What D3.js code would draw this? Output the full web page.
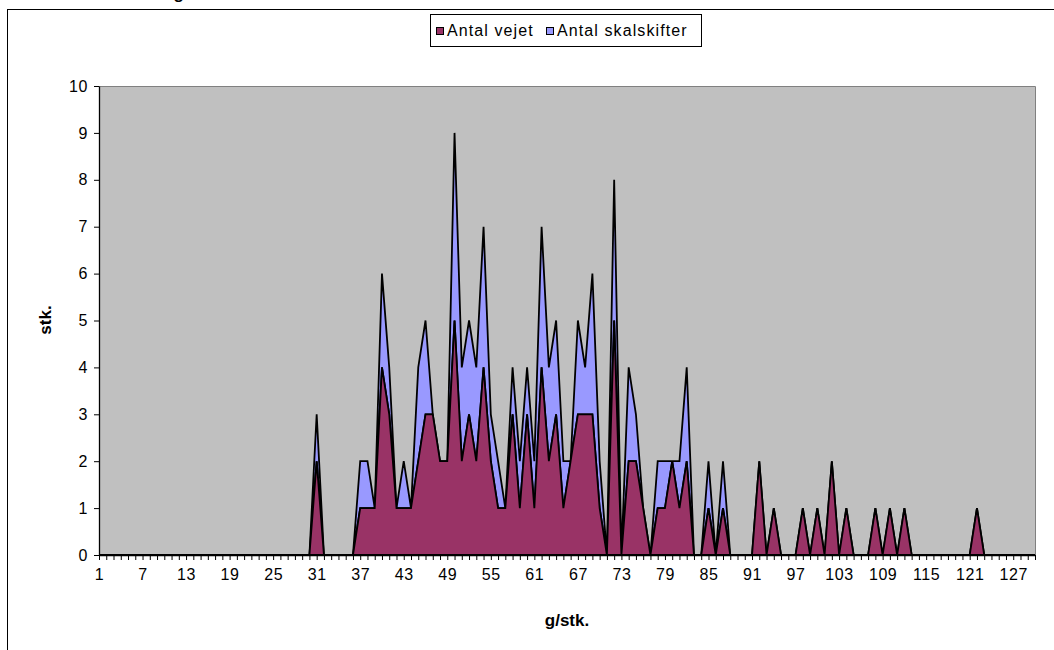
<!DOCTYPE html>
<html lang="da">
<head>
<meta charset="utf-8">
<title>Antal vejet / skalskifter</title>
<script src="https://cdn.jsdelivr.net/npm/d3@7"></script>
<style>
  body { margin: 0; background: #fff; }
  text { font-family: "Liberation Sans", Arial, sans-serif; }
</style>
</head>
<body>
<div id="chart"></div>
<script>
// g/stk. categories 1..130
var categories = d3.range(1, 131);

var vejet = [
  0,0,0,0,0,0,0,0,0,0,
  0,0,0,0,0,0,0,0,0,0,
  0,0,0,0,0,0,0,0,0,0,
  2,0,0,0,0,0,1,1,1,4,
  3,1,1,1,2,3,3,2,2,5,
  2,3,2,4,2,1,1,3,1,3,
  1,4,2,3,1,2,3,3,3,1,
  0,5,0,2,2,1,0,1,1,2,
  1,2,0,0,1,0,1,0,0,0,
  0,2,0,1,0,0,0,1,0,1,
  0,2,0,1,0,0,0,1,0,1,
  0,1,0,0,0,0,0,0,0,0,
  0,1,0,0,0,0,0,0,0,0
];

var skalskifter = [
  0,0,0,0,0,0,0,0,0,0,
  0,0,0,0,0,0,0,0,0,0,
  0,0,0,0,0,0,0,0,0,0,
  1,0,0,0,0,0,1,1,0,2,
  1,0,1,0,2,2,0,0,0,4,
  2,2,2,3,1,1,0,1,1,1,
  1,3,2,2,1,0,2,1,3,1,
  0,3,0,2,1,0,0,1,1,0,
  1,2,0,0,1,0,1,0,0,0,
  0,0,0,0,0,0,0,0,0,0,
  0,0,0,0,0,0,0,0,0,0,
  0,0,0,0,0,0,0,0,0,0,
  0,0,0,0,0,0,0,0,0,0
];

var yTicks = [0,1,2,3,4,5,6,7,8,9,10];
var seriesNames = ["Antal vejet", "Antal skalskifter"];
var seriesColors = ["#993366", "#9999FF"];

var W = 1054, H = 650;
var plot = { left: 99, right: 1035, top: 86, bottom: 555 };

var svg = d3.select("#chart").append("svg")
    .attr("width", W).attr("height", H);

// outer chart border (right/bottom run off the picture)
svg.append("rect")
    .attr("x", 7.5).attr("y", 9.5)
    .attr("width", 1100).attr("height", 700)
    .attr("fill", "none").attr("stroke", "#000").attr("stroke-width", 1);

// title, cut off at the top of the picture (only the g tail shows)
svg.append("text")
    .attr("x", 184).attr("y", -1)
    .attr("text-anchor", "end")
    .attr("font-size", 17).attr("font-weight", "bold")
    .text("Fordeling");

var x = d3.scaleLinear().domain([1, 130]).range([plot.left, plot.right]);
var y = d3.scaleLinear().domain([0, 10]).range([plot.bottom, plot.top]);

// plot area
svg.append("rect")
    .attr("x", plot.left).attr("y", plot.top)
    .attr("width", plot.right - plot.left).attr("height", plot.bottom - plot.top)
    .attr("fill", "#C0C0C0");
svg.append("path")
    .attr("d", "M" + plot.left + "," + (plot.top + 0.5) + "H" + (plot.right + 0.5) + "V" + plot.bottom)
    .attr("fill", "none").attr("stroke", "#808080").attr("stroke-width", 1);

var rows = categories.map(function(c, i) {
    return { c: c, v: vejet[i], s: skalskifter[i] };
});

var areaVejet = d3.area()
    .x(function(d) { return x(d.c); })
    .y0(function(d) { return y(0); })
    .y1(function(d) { return y(d.v); });

var areaSkal = d3.area()
    .x(function(d) { return x(d.c); })
    .y0(function(d) { return y(d.v); })
    .y1(function(d) { return y(d.v + d.s); });

svg.append("path")
    .datum(rows)
    .attr("d", areaSkal)
    .attr("fill", seriesColors[1])
    .attr("stroke", "#000").attr("stroke-width", 1.8)
    .attr("stroke-linejoin", "miter");

svg.append("path")
    .datum(rows)
    .attr("d", areaVejet)
    .attr("fill", seriesColors[0])
    .attr("stroke", "#000").attr("stroke-width", 1.8)
    .attr("stroke-linejoin", "miter");

// axes
var yAxis = d3.axisLeft(y)
    .tickValues(yTicks)
    .tickSize(5).tickSizeOuter(0).tickPadding(6);

var xAxis = d3.axisBottom(x)
    .tickValues(categories)
    .tickSize(5).tickSizeOuter(0).tickPadding(9)
    .tickFormat(function(d) { return (d - 1) % 6 === 0 ? d : ""; });

var gy = svg.append("g")
    .attr("transform", "translate(" + plot.left + ",0)")
    .call(yAxis);
var gx = svg.append("g")
    .attr("transform", "translate(0," + plot.bottom + ")")
    .call(xAxis);

[gx, gy].forEach(function(g) {
    g.select(".domain").attr("stroke", "#000").attr("stroke-width", 1.3);
    g.selectAll(".tick line").attr("stroke", "#000");
    g.selectAll(".tick text")
        .attr("fill", "#000")
        .style("font-family", "'Liberation Sans', Arial, sans-serif")
        .style("font-size", "16px")
        .style("letter-spacing", "0.6px");
});

// axis titles
svg.append("text")
    .attr("transform", "translate(51,320) rotate(-90)")
    .attr("text-anchor", "middle")
    .attr("font-size", 17).attr("font-weight", "bold")
    .text("stk.");

svg.append("text")
    .attr("x", (plot.left + plot.right) / 2).attr("y", 626)
    .attr("text-anchor", "middle")
    .attr("font-size", 17).attr("font-weight", "bold")
    .text("g/stk.");

// legend
var legend = svg.append("g").attr("transform", "translate(430,14)");
legend.append("rect")
    .attr("x", 0.5).attr("y", 0.5).attr("width", 271).attr("height", 32)
    .attr("fill", "#fff").attr("stroke", "#000");

var legendX = [6, 116];
seriesNames.forEach(function(name, i) {
    legend.append("rect")
        .attr("x", legendX[i] + 0.5).attr("y", 13.5)
        .attr("width", 7).attr("height", 7)
        .attr("fill", seriesColors[i]).attr("stroke", "#000");
    legend.append("text")
        .attr("x", legendX[i] + 11).attr("y", 22)
        .attr("font-size", 16)
        .style("letter-spacing", "1.1px")
        .text(name);
});
</script>
</body>
</html>
